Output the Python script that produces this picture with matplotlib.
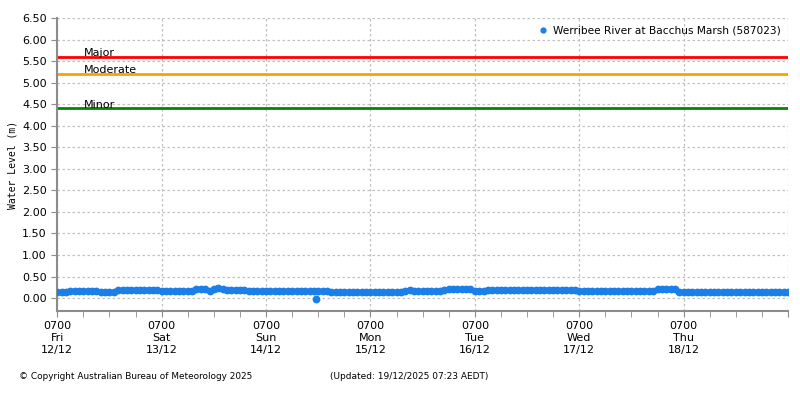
import matplotlib
matplotlib.use("Agg")
import matplotlib.pyplot as plt

# Hours since 0700 Fri 12/12, one reading per hour
levels_day0 = [0.15, 0.15, 0.15, 0.17, 0.17, 0.17, 0.17, 0.17, 0.17, 0.17, 0.15, 0.15,
               0.15, 0.15, 0.18, 0.18, 0.18, 0.18, 0.18, 0.18, 0.18, 0.18, 0.18, 0.18]
levels_day1 = [0.17, 0.17, 0.17, 0.17, 0.17, 0.17, 0.17, 0.17, 0.20, 0.22, 0.20, 0.17,
               0.21, 0.24, 0.21, 0.19, 0.19, 0.19, 0.19, 0.19, 0.17, 0.17, 0.17, 0.17]
levels_day2 = [0.17, 0.17, 0.17, 0.17, 0.17, 0.17, 0.17, 0.17, 0.17, 0.17, 0.17, 0.17,
               0.17, 0.17, 0.17, 0.15, 0.15, 0.15, 0.15, 0.15, 0.15, 0.15, 0.15, 0.15]
levels_day3 = [0.15, 0.15, 0.15, 0.15, 0.15, 0.15, 0.15, 0.15, 0.17, 0.18, 0.16, 0.16,
               0.16, 0.16, 0.16, 0.16, 0.16, 0.19, 0.22, 0.22, 0.22, 0.22, 0.22, 0.22]
levels_day4 = [0.16, 0.16, 0.16, 0.18, 0.18, 0.18, 0.18, 0.18, 0.18, 0.18, 0.18, 0.18,
               0.18, 0.18, 0.18, 0.18, 0.18, 0.18, 0.18, 0.18, 0.18, 0.18, 0.18, 0.18]
levels_day5 = [0.17, 0.17, 0.17, 0.17, 0.17, 0.17, 0.17, 0.17, 0.17, 0.17, 0.17, 0.17,
               0.17, 0.17, 0.17, 0.17, 0.17, 0.17, 0.21, 0.21, 0.21, 0.21, 0.21, 0.15]
levels_day6 = [0.15, 0.15, 0.15, 0.15, 0.15, 0.15, 0.15, 0.15, 0.15, 0.15, 0.15, 0.15,
               0.15, 0.15, 0.15, 0.15, 0.15, 0.15, 0.15, 0.15, 0.15, 0.15, 0.15, 0.15, 0.15]

# single low reading on Sunday evening
spike_hours = [59.4]
spike_levels = [-0.01]

flood_names = ["Major", "Moderate", "Minor"]
flood_levels = [5.6, 5.2, 4.4]
flood_colors = ["#ff0000", "#ffa000", "#008800"]

day_labels = ["0700\nFri\n12/12", "0700\nSat\n13/12", "0700\nSun\n14/12",
              "0700\nMon\n15/12", "0700\nTue\n16/12", "0700\nWed\n17/12",
              "0700\nThu\n18/12", ""]

levels = (levels_day0 + levels_day1 + levels_day2 + levels_day3
          + levels_day4 + levels_day5 + levels_day6)
hours = list(range(len(levels)))

blue = "#1a7fe8"
grey = "#8c8c8c"

fig = plt.figure(figsize=(8, 4), dpi=100)
ax = fig.add_axes([0.0716, 0.2225, 0.9134, 0.7325])

for name, lev, col in zip(flood_names, flood_levels, flood_colors):
    ax.axhline(lev, color=col, lw=2, zorder=2)
    ax.text(0.037, lev - 0.03, name, transform=ax.get_yaxis_transform(),
            fontsize=8, va="bottom", ha="left", color="black", zorder=4)

ax.plot(hours, levels, "o", color=blue, ms=4.6, mec=blue, zorder=3,
        label="Werribee River at Bacchus Marsh (587023)")
ax.plot(spike_hours, spike_levels, "o", color=blue, ms=4.6, mec=blue, zorder=3)

ax.set_xlim(0, 168)
ax.set_ylim(-0.3, 6.5)
ax.set_yticks([i * 0.5 for i in range(14)])
ax.set_yticklabels([f"{i * 0.5:.2f}" for i in range(14)])
ax.set_xticks(list(range(0, 169, 24)))
ax.set_xticklabels(day_labels)
ax.set_xticks(list(range(0, 169, 6)), minor=True)

ax.grid(True, which="major", color="#c0c0c0", ls=(0, (2, 2)), lw=0.9)
ax.tick_params(axis="both", which="both", colors=grey, labelcolor="black",
               labelsize=8, length=4, direction="out")
for side in ["top", "right"]:
    ax.spines[side].set_visible(False)
for side in ["left", "bottom"]:
    ax.spines[side].set_color(grey)
    ax.spines[side].set_linewidth(1.5)

ax.set_ylabel("Water Level (m)", fontsize=7, family="DejaVu Sans Mono")
ax.yaxis.set_label_coords(-0.055, 0.5)

leg = ax.legend(loc="upper right", frameon=False, fontsize=7.6, handletextpad=0.4,
                handlelength=1, borderaxespad=0.3, markerscale=0.75)

fig.text(0.024, 0.052, "\u00a9 Copyright Australian Bureau of Meteorology 2025", fontsize=6.4)
fig.text(0.412, 0.052, "(Updated: 19/12/2025 07:23 AEDT)", fontsize=6.5)

fig.savefig("out.png", dpi=100)
